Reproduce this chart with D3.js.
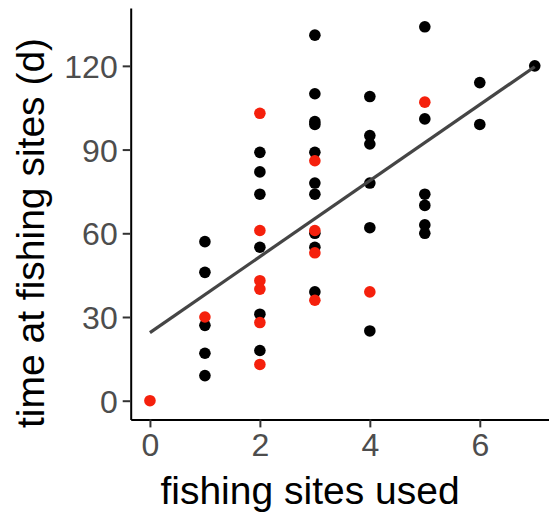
<!DOCTYPE html>
<html>
<head>
<meta charset="utf-8">
<script src="https://cdn.jsdelivr.net/npm/d3@7"></script>
<style>
  body { margin: 0; background: #fff; }
  svg { display: block; font-family: "Liberation Sans", Arial, sans-serif; }
</style>
</head>
<body>
<script>
// fishing sites used (x) and days at fishing sites (y), per individual
var blackSites = [1,1,1,1,1, 2,2,2,2,2,2, 3,3,3,3,3,3,3,3,3,3, 4,4,4,4,4,4, 5,5,5,5,5,5, 6,6, 7];
var blackDays  = [57,46,27,17,9, 89,82,74,55,31,18, 131,110,100,99,89,78,74,60,55,39, 109,95,92,78,62,25, 134,101,74,70,63,60, 114,99, 120];
var redSites = [0, 1, 2,2,2,2,2,2, 3,3,3,3, 4, 5];
var redDays  = [0, 30, 103,61,43,40,28,13, 86,61,53,36, 39, 107];

// fitted line (lm) end points
var fitSites = [0, 7];
var fitDays  = [24.4, 119.7];

var xTicks = [0, 2, 4, 6];
var yTicks = [0, 30, 60, 90, 120];

var width = 549,
    height = 513;

var x = d3.scaleLinear()
    .domain([-0.35, 7.35])
    .range([130.7, 554]);

var y = d3.scaleLinear()
    .domain([-6.7, 140.7])
    .range([419.4, 8.1]);

var svg = d3.select("body").append("svg")
    .attr("width", width)
    .attr("height", height);

// points
var black = blackSites.map(function(d, i) { return {x: d, y: blackDays[i]}; });
var red = redSites.map(function(d, i) { return {x: d, y: redDays[i]}; });

svg.append("g").selectAll("circle")
    .data(black)
  .enter().append("circle")
    .attr("cx", function(d) { return x(d.x); })
    .attr("cy", function(d) { return y(d.y); })
    .attr("r", 5.8)
    .attr("fill", "#000");

svg.append("g").selectAll("circle")
    .data(red)
  .enter().append("circle")
    .attr("cx", function(d) { return x(d.x); })
    .attr("cy", function(d) { return y(d.y); })
    .attr("r", 5.8)
    .attr("fill", "#f5200c");

// regression line
var line = d3.line()
    .x(function(d, i) { return x(fitSites[i]); })
    .y(function(d, i) { return y(fitDays[i]); });

svg.append("path")
    .attr("d", line(fitSites))
    .attr("fill", "none")
    .attr("stroke", "#454545")
    .attr("stroke-width", 3.2);

// axes
var xAxis = svg.append("g")
    .attr("transform", "translate(0," + 419.4 + ")")
    .call(d3.axisBottom(x).tickValues(xTicks).tickSize(8).tickPadding(6).tickSizeOuter(0));

var yAxis = svg.append("g")
    .attr("transform", "translate(" + 130.7 + ",0)")
    .call(d3.axisLeft(y).tickValues(yTicks).tickSize(8).tickPadding(5).tickSizeOuter(0));

[xAxis, yAxis].forEach(function(g) {
  g.select(".domain").attr("stroke", "#000").attr("stroke-width", 2);
  g.selectAll(".tick line").attr("stroke", "#333").attr("stroke-width", 2);
  g.selectAll(".tick text")
    .attr("fill", "#4d4d4d")
    .style("font-size", "32px")
    .style("font-family", "'Liberation Sans', Arial, sans-serif");
});
xAxis.selectAll(".tick text").attr("dy", "0.71em");
yAxis.selectAll(".tick text").attr("dy", "0.36em");

// axis titles
svg.append("text")
    .attr("x", 310)
    .attr("y", 504)
    .attr("text-anchor", "middle")
    .style("font-size", "39px")
    .attr("fill", "#000")
    .text("fishing sites used");

svg.append("text")
    .attr("transform", "translate(43.6,233) rotate(-90)")
    .attr("text-anchor", "middle")
    .style("font-size", "39px")
    .attr("fill", "#000")
    .text("time at fishing sites (d)");
</script>
</body>
</html>
